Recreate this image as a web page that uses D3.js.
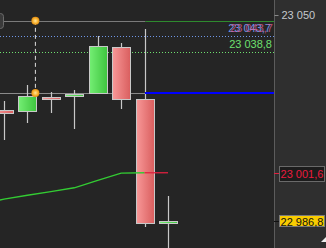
<!DOCTYPE html>
<html><head><meta charset="utf-8">
<script src="https://cdn.jsdelivr.net/npm/d3@7"></script>
<style>html,body{margin:0;padding:0;background:#252525;overflow:hidden}svg{display:block}</style>
</head><body><svg id="c" width="326" height="248"></svg>
<script>
// ---- data ----
const candleIndex = [0, 1, 2, 3, 4, 5, 6, 7];
const opens  = [23020.9, 23020.5, 23024.7, 23025.2, 23026.1, 23040.2, 23024.2, 22986.1];
const highs  = [23023.6, 23028.5, 23026.4, 23027.0, 23043.6, 23041.4, 23045.7, 22994.5];
const lows   = [23011.5, 23016.9, 23019.9, 23015.0, 23026.1, 23021.3, 22985.0, 22977.0];
const closes = [23020.0, 23025.2, 23024.2, 23025.8, 23040.5, 23024.3, 22986.1, 22986.8];

const maIndex  = [-1, 0, 1, 2, 3, 4, 5, 6, 7];
const maValues = [22992.0, 22993.5, 22994.7, 22995.8, 22997.0, 22999.3, 23001.5, 23001.6, 23001.6];

const levelTop = 23048.2;      // drawn horizontal ray (top)
const levelMid = 23026.1;      // drawn horizontal ray (middle)
const anchorIndex = 1.34;      // anchor of vertical dashed drawing
const splitIndex = 6;          // where rays change colour
const dotLevels = [23043.7, 23038.8];
const maLast = 23001.6;
const lastPrice = 22986.8;
const axisTicks = [23050];

// ---- setup ----
const W = 326, H = 248, plotRight = 274;
const loc = d3.formatLocale({decimal: ",", thousands: " ", grouping: [3], currency: ["", ""]});
const f1 = loc.format(",.1f"), f0 = loc.format(",.0f");
const x = d3.scaleLinear().domain([0, 7]).range([4, 168]);
const y = d3.scaleLinear().domain([22986.8, 23050]).range([221, 15]);
const Y = v => Math.round(y(v)) + 0.5;
const X = i => Math.round(x(i)) + 0.5;
const svg = d3.select("#c");
const FONT = "'Liberation Sans', Arial, sans-serif";

const defs = svg.append("defs");
const gg = defs.append("linearGradient").attr("id", "gG");
gg.append("stop").attr("offset", 0).attr("stop-color", "#74ee74");
gg.append("stop").attr("offset", 1).attr("stop-color", "#3ec43e");
const gr = defs.append("linearGradient").attr("id", "gR");
gr.append("stop").attr("offset", 0).attr("stop-color", "#f89898");
gr.append("stop").attr("offset", 1).attr("stop-color", "#d95e5e");
const go = defs.append("radialGradient").attr("id", "gO");
go.append("stop").attr("offset", 0).attr("stop-color", "#ffe59a");
go.append("stop").attr("offset", 0.6).attr("stop-color", "#f9b433");
go.append("stop").attr("offset", 1).attr("stop-color", "#e08c12");

// backgrounds
svg.append("rect").attr("x", 0).attr("y", 0).attr("width", plotRight).attr("height", H).attr("fill", "#252525");
svg.append("rect").attr("x", plotRight).attr("y", 0).attr("width", W - plotRight).attr("height", H).attr("fill", "#2f2f2f");

// dotted level lines
const dotColors = ["#6f95e6", "#6ee06e"];
dotLevels.forEach((v, k) => {
  svg.append("line").attr("x1", 0).attr("x2", plotRight).attr("y1", Y(v)).attr("y2", Y(v))
    .attr("stroke", dotColors[k]).attr("stroke-width", 1).attr("stroke-dasharray", "1,2");
});

// dotted level labels
const lblTop = Y(dotLevels[0]) - 4.5;
svg.append("text").attr("x", 271).attr("y", lblTop).attr("text-anchor", "end")
  .attr("font-family", FONT).attr("font-size", 11).attr("fill", "#6f95e6").text(f1(dotLevels[0]));
svg.append("text").attr("x", 273).attr("y", lblTop).attr("text-anchor", "end")
  .attr("font-family", FONT).attr("font-size", 11).attr("fill", "#e0609a").attr("opacity", 0.75).text(f1(dotLevels[0]));
svg.append("text").attr("x", 272).attr("y", Y(dotLevels[1]) - 4.5).attr("text-anchor", "end")
  .attr("font-family", FONT).attr("font-size", 11).attr("fill", "#6ee06e").text(f1(dotLevels[1]));

// drawn rays
const xs = X(splitIndex);
svg.append("line").attr("x1", 0).attr("x2", xs).attr("y1", Y(levelTop)).attr("y2", Y(levelTop))
  .attr("stroke", "#7a7a7a").attr("stroke-width", 1);
svg.append("line").attr("x1", xs).attr("x2", plotRight).attr("y1", Y(levelTop)).attr("y2", Y(levelTop))
  .attr("stroke", "#2e8a2e").attr("stroke-width", 1);
svg.append("line").attr("x1", 0).attr("x2", xs).attr("y1", Y(levelMid)).attr("y2", Y(levelMid))
  .attr("stroke", "#8a8a8a").attr("stroke-width", 1);

// left cut-off box
svg.append("rect").attr("x", -4.5).attr("y", 13.5).attr("width", 8).attr("height", 15).attr("rx", 3)
  .attr("fill", "#3a3a3a").attr("stroke", "#6a6a6a");

// candles
const wickColor = "#c8c8c8";
svg.append("g").selectAll("line").data(candleIndex).join("line")
  .attr("x1", i => X(i)).attr("x2", i => X(i))
  .attr("y1", i => Math.round(y(highs[i]))).attr("y2", i => Math.round(y(lows[i])))
  .attr("stroke", wickColor).attr("stroke-width", 1.2);
svg.append("g").selectAll("rect").data(candleIndex).join("rect")
  .attr("x", i => Math.round(x(i)) - 9 + 0.5)
  .attr("width", 18)
  .attr("y", i => Math.round(y(Math.max(opens[i], closes[i]))) + 0.5)
  .attr("height", i => Math.max(1, Math.round(y(Math.min(opens[i], closes[i]))) - Math.round(y(Math.max(opens[i], closes[i])))))
  .attr("fill", i => closes[i] >= opens[i] ? "url(#gG)" : "url(#gR)")
  .attr("stroke", wickColor).attr("stroke-width", 1);

// blue ray (on top)
svg.append("line").attr("x1", xs - 0.5).attr("x2", plotRight).attr("y1", Y(levelMid) - 0.5).attr("y2", Y(levelMid) - 0.5)
  .attr("stroke", "#0000ff").attr("stroke-width", 2);

// moving average
const maPts = maIndex.map((i, k) => [x(i), y(maValues[k])]);
const lineGen = d3.line();
svg.append("path").attr("d", lineGen(maPts.slice(0, maPts.length - 1))).attr("fill", "none")
  .attr("stroke", "#33cc33").attr("stroke-width", 1.3);
svg.append("path").attr("d", lineGen(maPts.slice(maPts.length - 2))).attr("fill", "none")
  .attr("stroke", "#e0203f").attr("stroke-width", 1.3);

// vertical dashed drawing + anchors
const ax = x(anchorIndex);
svg.append("line").attr("x1", ax).attr("x2", ax).attr("y1", y(levelTop)).attr("y2", y(levelMid))
  .attr("stroke", "#dddddd").attr("stroke-width", 1).attr("stroke-dasharray", "4,3");
[levelTop, levelMid].forEach(v => {
  svg.append("circle").attr("cx", ax).attr("cy", y(v)).attr("r", 4).attr("fill", "url(#gO)");
});

// right axis
const axisG = svg.append("g").attr("transform", `translate(${plotRight + 0.5},0)`)
  .call(d3.axisRight(y).tickValues(axisTicks).tickSize(4).tickPadding(3).tickFormat(f0));
axisG.select(".domain").attr("stroke", "#5c5c5c").attr("d", `M0,0V${H}`);
axisG.selectAll(".tick line").attr("stroke", "#8a8a8a");
axisG.selectAll(".tick text").attr("fill", "#c4c8cc").attr("font-family", FONT).attr("font-size", 11);

// MA price tag
const yMa = Math.round(y(maLast));
svg.append("line").attr("x1", plotRight).attr("x2", 280).attr("y1", yMa + 0.5).attr("y2", yMa + 0.5).attr("stroke", "#e0203f");
svg.append("rect").attr("x", 279.5).attr("y", yMa - 6.5).attr("width", 45).attr("height", 15)
  .attr("fill", "#1c1c1c").attr("stroke", "#6a6a6a");
svg.append("text").attr("x", 302).attr("y", yMa + 5).attr("text-anchor", "middle")
  .attr("font-family", FONT).attr("font-size", 11).attr("fill", "#ea1a3e").text(f1(maLast));

// last price tag
const yLp = Math.round(y(lastPrice));
svg.append("line").attr("x1", plotRight).attr("x2", 280).attr("y1", yLp + 0.5).attr("y2", yLp + 0.5).attr("stroke", "#111");
svg.append("rect").attr("x", 279.5).attr("y", yLp - 5.5).attr("width", 45).attr("height", 11)
  .attr("fill", "#f9cc00").attr("stroke", "#7a7a7a");
svg.append("text").attr("x", 302).attr("y", yLp + 4.5).attr("text-anchor", "middle")
  .attr("font-family", FONT).attr("font-size", 11).attr("fill", "#111").text(f1(lastPrice));

// corner glyph
svg.append("path").attr("d", "M321,242 L326,237 L326,242 Z").attr("fill", "#eeeeee");
</script></body></html>
